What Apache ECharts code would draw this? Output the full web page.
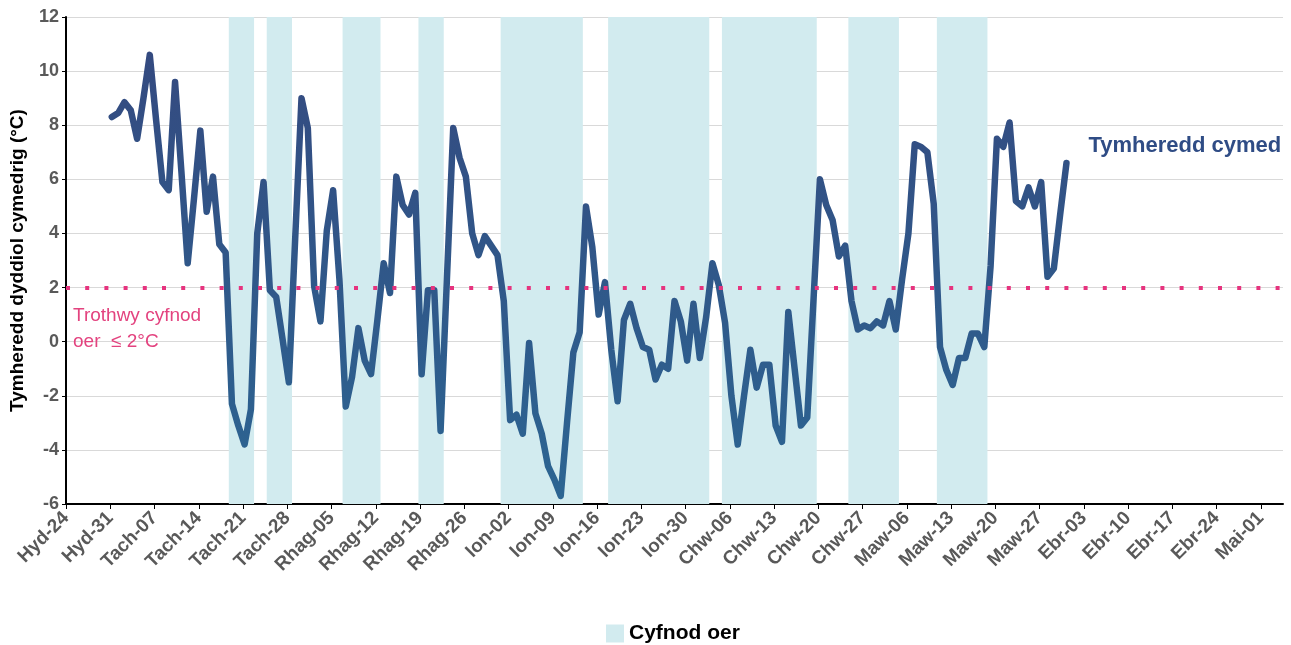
<!DOCTYPE html>
<html>
<head>
<meta charset="utf-8">
<script src="https://cdn.jsdelivr.net/npm/echarts@6/dist/echarts.min.js"></script>
<style>
html,body{margin:0;padding:0;background:#fff;}
#chart{width:1291px;height:645px;}
</style>
</head>
<body>
<div id="chart"></div>
<script>
// ---- data ----
const axisStart = '2022-10-24';      // first tick (Hyd-24)
const firstReading = '2022-10-31';   // first daily mean
const readingHour = 6;               // readings stamped at 06:00
const tickLabels = ['Hyd-24','Hyd-31','Tach-07','Tach-14','Tach-21','Tach-28','Rhag-05','Rhag-12','Rhag-19','Rhag-26',
  'Ion-02','Ion-09','Ion-16','Ion-23','Ion-30','Chw-06','Chw-13','Chw-20','Chw-27','Maw-06','Maw-13','Maw-20','Maw-27',
  'Ebr-03','Ebr-10','Ebr-17','Ebr-24','Mai-01'];
const meanTemp = [
  8.3, 8.45, 8.85, 8.55, 7.5, 9.0, 10.6, 8.2, 5.9, 5.6,
  9.6, 6.3, 2.9, 5.3, 7.8, 4.8, 6.1, 3.6, 3.3, -2.3,
  -3.1, -3.8, -2.5, 4.0, 5.9, 1.9, 1.65, 0.1, -1.5, 3.8,
  9.0, 7.9, 2.05, 0.75, 4.1, 5.6, 2.3, -2.4, -1.3, 0.5,
  -0.7, -1.2, 0.8, 2.9, 1.8, 6.1, 5.05, 4.7, 5.5, -1.2,
  1.9, 1.9, -3.3, 2.3, 7.9, 6.8, 6.1, 4.0, 3.2, 3.9,
  3.55, 3.2, 1.5, -2.9, -2.7, -3.4, -0.05, -2.65, -3.4, -4.6,
  -5.1, -5.7, -3.0, -0.4, 0.35, 5.0, 3.5, 1.0, 2.2, -0.3,
  -2.2, 0.8, 1.4, 0.5, -0.2, -0.3, -1.4, -0.85, -1.0, 1.5,
  0.75, -0.7, 1.4, -0.6, 0.9, 2.9, 2.1, 0.7, -2.0, -3.8,
  -2.0, -0.3, -1.7, -0.85, -0.85, -3.1, -3.7, 1.1, -1.0, -3.1,
  -2.8, 1.6, 6.0, 5.05, 4.5, 3.15, 3.55, 1.5, 0.45, 0.6,
  0.5, 0.75, 0.6, 1.5, 0.45, 2.3, 4.0, 7.3, 7.2, 7.0,
  5.1, -0.2, -1.05, -1.6, -0.6, -0.6, 0.3, 0.3, -0.2, 2.8,
  7.5, 7.2, 8.1, 5.2, 5.0, 5.7, 5.0, 5.9, 2.4, 2.7,
  4.7, 6.6
];
const coldPeriods = [
  ['2022-11-19','2022-11-22'], ['2022-11-25','2022-11-28'], ['2022-12-07','2022-12-12'],
  ['2022-12-19','2022-12-22'], ['2023-01-01','2023-01-13'], ['2023-01-18','2023-02-02'],
  ['2023-02-05','2023-02-19'], ['2023-02-25','2023-03-04'], ['2023-03-11','2023-03-18']
];
const threshold = 2;
const seriesName = 'Tymheredd cymedrig';
const endLabelText = 'Tymheredd cymed';
const thresholdText = 'Trothwy cyfnod\noer  \u2264 2°C';
const coldName = 'Cyfnod oer';
const yTitle = 'Tymheredd dyddiol cymedrig (°C)';

// ---- build ----
const DAY = 86400000;
const dayNum = s => (Date.parse(s + 'T00:00:00Z') - Date.parse(axisStart + 'T00:00:00Z')) / DAY;
const off = readingHour / 24;
const first = dayNum(firstReading) + off;
const lineData = meanTemp.map((v, i) => [first + i, v]);
const bandData = coldPeriods.map(([a, b]) => [dayNum(a) + off - 0.5, dayNum(b) + off + 0.5]);

const Y_MIN = -6, Y_MAX = 12;
const FONT = '"Liberation Sans", Arial, sans-serif';
const chart = echarts.init(document.getElementById('chart'), null, {renderer: 'canvas'});
chart.setOption({
  animation: false,
  textStyle: {fontFamily: FONT},
  grid: {left: 63, right: 8, top: 17, bottom: 141, containLabel: false},
  legend: {
    data: [{name: coldName, icon: 'rect'}],
    left: 601, top: 618,
    itemWidth: 18, itemHeight: 18, itemGap: 8,
    textStyle: {fontFamily: FONT, fontSize: 21, fontWeight: 'bold', color: '#000'}
  },
  xAxis: {
    type: 'value', min: 0, max: 192.5, interval: 7,
    axisLine: {show: true, onZero: false, lineStyle: {color: '#000', width: 2}},
    axisTick: {show: true, length: 5, lineStyle: {color: '#000', width: 1}},
    splitLine: {show: false},
    axisLabel: {
      rotate: 45, margin: 11, fontFamily: FONT, fontSize: 19, fontWeight: 'bold', color: '#595959',
      showMaxLabel: false,
      formatter: v => { const i = Math.round(v / 7); return (Math.abs(v - i * 7) < 1e-6 && tickLabels[i]) ? tickLabels[i] : ''; }
    }
  },
  yAxis: {
    type: 'value', min: Y_MIN, max: Y_MAX, interval: 2,
    name: yTitle, nameLocation: 'middle', nameGap: 39,
    nameTextStyle: {fontFamily: FONT, fontSize: 19, fontWeight: 'bold', color: '#000'},
    axisLine: {show: true, lineStyle: {color: '#000', width: 2}},
    axisTick: {show: true, length: 4, lineStyle: {color: '#000'}},
    splitLine: {show: true, lineStyle: {color: '#d9d9d9', width: 1}},
    axisLabel: {margin: 7, fontFamily: FONT, fontSize: 18, fontWeight: 'bold', color: '#595959'}
  },
  series: [
    {
      name: coldName, type: 'custom', z: 1, silent: true,
      color: '#d2ebef',
      encode: {x: [0, 1]},
      data: bandData,
      renderItem: (params, api) => {
        const p0 = api.coord([api.value(0), Y_MAX]);
        const p1 = api.coord([api.value(1), Y_MIN]);
        return {type: 'rect', shape: {x: p0[0], y: p0[1], width: p1[0] - p0[0], height: p1[1] - p0[1]},
                style: {fill: '#d2ebef'}};
      }
    },
    {
      name: seriesName, type: 'line', z: 3,
      data: lineData, showSymbol: false, symbol: 'none', smooth: false,
      lineStyle: {
        width: 6.5, cap: 'round', join: 'round',
        color: new echarts.graphic.LinearGradient(0, 0, 0, 1, [
          {offset: 0, color: '#344a80'}, {offset: 1, color: '#2c6592'}
        ])
      },
      endLabel: {
        show: true, formatter: endLabelText, offset: [14, -17],
        fontFamily: FONT, fontSize: 22, fontWeight: 'bold', color: '#2f4c85'
      },
      markLine: {
        silent: true, symbol: ['none', 'none'],
        lineStyle: {color: '#e6337e', width: 4, type: [4, 15.2], cap: 'butt'},
        label: {
          show: true, position: 'insideStartBottom', formatter: thresholdText,
          fontFamily: FONT, fontSize: 19, lineHeight: 26, color: '#e3437f', align: 'left', distance: [7, 15]
        },
        data: [{yAxis: threshold}]
      }
    }
  ]
});
</script>
</body>
</html>
